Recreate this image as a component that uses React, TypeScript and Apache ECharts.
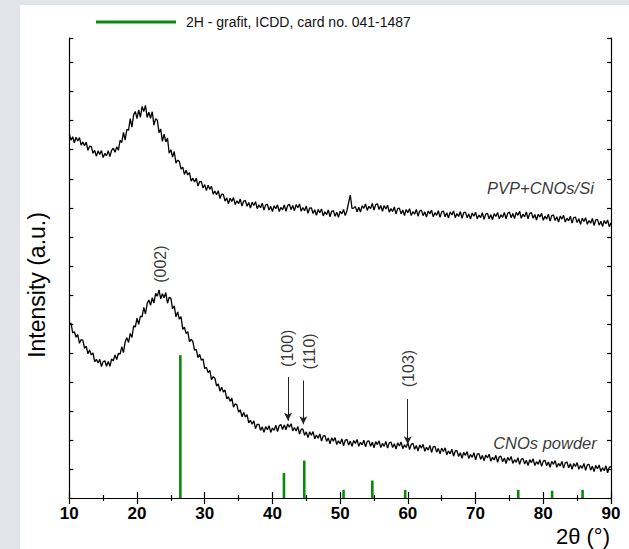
import React, { useEffect, useRef } from "react";
import * as echarts from "echarts";

// 2θ grid of the measured patterns (degrees)
const twoThetaStart = 10;
const twoThetaStep = 0.25;

// PVP+CNOs/Si pattern (a.u., offset upward), 10° … 90°
const pvpCnosSi = [
  12.54, 12.33, 12.45, 12.24, 12.43, 12.30, 12.42, 12.16, 12.27, 12.14,
  12.26, 11.98, 12.12, 12.11, 11.88, 11.98, 11.77, 11.96, 11.84, 11.97,
  11.73, 11.87, 11.79, 11.97, 11.76, 11.98, 12.05, 11.91, 12.10, 11.98,
  12.32, 12.25, 12.60, 12.33, 12.70, 12.67, 13.07, 12.78, 13.20, 13.32,
  13.07, 13.37, 13.12, 13.49, 13.32, 13.53, 13.11, 13.29, 13.08, 13.31,
  12.85, 13.07, 13.02, 12.59, 12.71, 12.29, 12.54, 12.27, 12.40, 11.88,
  12.00, 11.75, 11.94, 11.54, 11.64, 11.60, 11.33, 11.40, 11.15, 11.29,
  11.13, 11.21, 10.92, 11.02, 10.89, 11.02, 10.75, 10.90, 10.90, 10.68,
  10.80, 10.59, 10.78, 10.64, 10.74, 10.47, 10.58, 10.45, 10.59, 10.32,
  10.47, 10.46, 10.23, 10.34, 10.14, 10.33, 10.22, 10.35, 10.11, 10.24,
  10.14, 10.30, 10.06, 10.23, 10.25, 10.05, 10.18, 9.99, 10.19, 10.08,
  10.21, 9.97, 10.10, 10.00, 10.16, 9.92, 10.10, 10.12, 9.92, 10.05,
  9.87, 10.07, 9.97, 10.10, 9.87, 10.01, 9.93, 10.10, 9.88, 10.08,
  10.12, 9.94, 10.08, 9.90, 10.11, 10.00, 10.13, 9.88, 10.01, 9.90,
  10.06, 9.81, 9.99, 10.00, 9.80, 9.93, 9.74, 9.94, 9.83, 9.96,
  9.72, 9.86, 9.76, 9.93, 9.69, 9.88, 9.90, 9.71, 9.85, 9.67,
  9.88, 9.79, 9.94, 9.73, 9.90, 10.18, 10.44, 9.98, 9.99, 10.04,
  9.86, 10.02, 9.85, 10.07, 9.98, 10.13, 9.91, 10.05, 9.97, 10.15,
  9.92, 10.11, 10.14, 9.94, 10.08, 9.88, 10.08, 9.96, 10.09, 9.85,
  9.97, 9.87, 10.03, 9.79, 9.97, 9.99, 9.79, 9.92, 9.73, 9.94,
  9.83, 9.97, 9.73, 9.87, 9.78, 9.94, 9.71, 9.89, 9.92, 9.73,
  9.86, 9.68, 9.89, 9.79, 9.92, 9.69, 9.83, 9.74, 9.90, 9.67,
  9.86, 9.89, 9.69, 9.83, 9.65, 9.86, 9.75, 9.89, 9.66, 9.80,
  9.70, 9.87, 9.64, 9.83, 9.85, 9.66, 9.79, 9.61, 9.82, 9.71,
  9.85, 9.62, 9.75, 9.66, 9.83, 9.60, 9.78, 9.81, 9.62, 9.76,
  9.59, 9.80, 9.70, 9.84, 9.62, 9.76, 9.67, 9.84, 9.62, 9.81,
  9.85, 9.66, 9.80, 9.63, 9.84, 9.74, 9.88, 9.64, 9.78, 9.69,
  9.86, 9.62, 9.81, 9.83, 9.64, 9.77, 9.58, 9.78, 9.68, 9.81,
  9.57, 9.71, 9.61, 9.78, 9.54, 9.73, 9.75, 9.56, 9.69, 9.51,
  9.71, 9.61, 9.74, 9.51, 9.64, 9.55, 9.71, 9.47, 9.66, 9.68,
  9.49, 9.62, 9.43, 9.64, 9.53, 9.66, 9.43, 9.56, 9.47, 9.63,
  9.39, 9.58, 9.60, 9.40, 9.54, 9.35, 9.56, 9.45, 9.58, 9.35,
  9.48,
];

// CNOs powder pattern (a.u.), 10° … 90°
const cnosPowder = [
  6.01, 6.03, 5.69, 5.73, 5.54, 5.63, 5.33, 5.46, 5.43, 5.16,
  5.23, 4.97, 5.10, 4.93, 5.00, 4.70, 4.78, 4.65, 4.78, 4.53,
  4.70, 4.73, 4.54, 4.70, 4.54, 4.79, 4.73, 4.93, 4.77, 4.98,
  4.96, 5.21, 5.01, 5.38, 5.52, 5.36, 5.67, 5.53, 5.93, 5.89,
  6.20, 5.98, 6.27, 6.24, 6.57, 6.34, 6.70, 6.82, 6.64, 6.90,
  6.72, 7.05, 6.95, 7.17, 6.86, 7.04, 6.90, 7.08, 6.71, 6.91,
  6.89, 6.52, 6.62, 6.24, 6.41, 6.16, 6.25, 5.81, 5.89, 5.67,
  5.73, 5.39, 5.47, 5.39, 5.09, 5.12, 4.84, 4.95, 4.75, 4.79,
  4.46, 4.50, 4.32, 4.40, 4.08, 4.18, 4.13, 3.86, 3.93, 3.68,
  3.82, 3.65, 3.72, 3.42, 3.49, 3.33, 3.44, 3.13, 3.25, 3.21,
  2.96, 3.04, 2.80, 2.95, 2.79, 2.87, 2.59, 2.68, 2.54, 2.66,
  2.39, 2.54, 2.54, 2.33, 2.45, 2.26, 2.46, 2.35, 2.49, 2.26,
  2.41, 2.33, 2.51, 2.29, 2.49, 2.53, 2.36, 2.52, 2.35, 2.55,
  2.44, 2.56, 2.31, 2.43, 2.31, 2.46, 2.20, 2.37, 2.37, 2.16,
  2.28, 2.08, 2.28, 2.16, 2.29, 2.04, 2.17, 2.06, 2.21, 1.96,
  2.14, 2.15, 1.95, 2.07, 1.87, 2.07, 1.96, 2.08, 1.84, 1.97,
  1.87, 2.04, 1.80, 1.99, 2.02, 1.82, 1.96, 1.78, 1.98, 1.88,
  2.02, 1.78, 1.92, 1.83, 1.99, 1.76, 1.95, 1.97, 1.78, 1.92,
  1.73, 1.94, 1.84, 1.97, 1.74, 1.88, 1.78, 1.95, 1.72, 1.90,
  1.93, 1.74, 1.87, 1.69, 1.90, 1.79, 1.93, 1.70, 1.83, 1.74,
  1.91, 1.67, 1.85, 1.88, 1.68, 1.81, 1.62, 1.83, 1.72, 1.85,
  1.61, 1.75, 1.65, 1.81, 1.57, 1.76, 1.78, 1.58, 1.71, 1.52,
  1.72, 1.60, 1.73, 1.49, 1.62, 1.52, 1.68, 1.44, 1.62, 1.63,
  1.43, 1.56, 1.37, 1.57, 1.47, 1.60, 1.36, 1.50, 1.40, 1.56,
  1.32, 1.51, 1.53, 1.33, 1.47, 1.28, 1.48, 1.38, 1.51, 1.27,
  1.40, 1.31, 1.47, 1.23, 1.42, 1.44, 1.25, 1.38, 1.19, 1.40,
  1.29, 1.43, 1.19, 1.32, 1.23, 1.39, 1.16, 1.34, 1.36, 1.17,
  1.30, 1.12, 1.32, 1.22, 1.35, 1.12, 1.25, 1.16, 1.32, 1.09,
  1.27, 1.30, 1.11, 1.24, 1.06, 1.26, 1.16, 1.29, 1.06, 1.19,
  1.10, 1.26, 1.03, 1.21, 1.24, 1.04, 1.18, 0.99, 1.19, 1.09,
  1.22, 0.99, 1.12, 1.02, 1.19, 0.95, 1.14, 1.16, 0.96, 1.10,
  0.91, 1.12, 1.01, 1.14, 0.91, 1.04, 0.94, 1.11, 0.87, 1.06,
  1.08,
];

// Reference sticks: 2H graphite, ICDD card 041-1487
const refPositions = [26.4, 41.7, 44.7, 50.5, 54.75, 59.6, 76.3, 81.3, 85.8];
const refHeights = [4.92, 0.86, 1.29, 0.28, 0.6, 0.28, 0.28, 0.25, 0.28];
const refName = "2H - grafit, ICDD, card no. 041-1487";

// Miller-index annotations
const hklLabels = ["(002)", "(100)", "(110)", "(103)"];
const hklLabelX = [23.54, 42.2, 45.4, 60.07];
const hklLabelY = [8.06, 5.16, 5.05, 4.46];
const hklArrowX = [null, 42.3, 44.56, 59.98];
const hklArrowFrom = [null, 4.17, 4.05, 3.41];
const hklArrowTo = [null, 2.66, 2.54, 1.85];

// Sample names
const sampleNames = ["PVP+CNOs/Si", "CNOs powder"];
const sampleNameX = [87.47, 87.9];
const sampleNameY = [10.67, 1.91];

const xTicksMin = 10;
const xTicksMax = 90;
const yMin = 0;
const yMax = 15.85;

const FONT = "'Liberation Sans', Arial, Helvetica, sans-serif";

export default function App() {
  const ref = useRef<HTMLDivElement>(null);

  useEffect(() => {
    if (!ref.current) return;
    const chart = echarts.init(ref.current, undefined, { renderer: "svg" });

    const toPairs = (vals: number[]) =>
      vals.map((v, i) => [twoThetaStart + i * twoThetaStep, v]);

    const arrowData: any[] = [];
    hklArrowX.forEach((x, i) => {
      if (x == null) return;
      arrowData.push([
        { coord: [x, hklArrowFrom[i]] },
        { coord: [x, hklArrowTo[i]] },
      ]);
    });

    const axisLine = { show: true, lineStyle: { color: "#000", width: 1.2 } };
    const tickStyle = { color: "#000", width: 1.2 };

    const option: any = {
      animation: false,
      backgroundColor: "#ffffff",
      textStyle: { fontFamily: FONT },
      grid: { left: 49.3, right: 18, top: 33, bottom: 51, containLabel: false },
      legend: {
        show: true,
        left: 76,
        top: 10,
        padding: 0,
        itemWidth: 80,
        itemHeight: 3,
        selectedMode: false,
        data: [{ name: refName, icon: "rect" }],
        textStyle: { fontSize: 14, color: "#111", fontFamily: FONT, padding: [0, 0, 0, 5] },
      },
      xAxis: [
        {
          type: "value",
          min: xTicksMin,
          max: xTicksMax,
          interval: 10,
          position: "bottom",
          axisLine,
          splitLine: { show: false },
          axisTick: { show: true, inside: true, length: 6, lineStyle: tickStyle },
          minorTick: { show: true, splitNumber: 2, length: 3, lineStyle: tickStyle },
          axisLabel: { show: true, fontSize: 17, fontWeight: "bold", color: "#000", margin: 7, fontFamily: FONT },
        },
        {
          type: "value",
          min: xTicksMin,
          max: xTicksMax,
          interval: 10,
          position: "top",
          axisLine,
          splitLine: { show: false },
          axisTick: { show: true, inside: true, length: 6, lineStyle: tickStyle },
          minorTick: { show: true, splitNumber: 2, length: 3, lineStyle: tickStyle },
          axisLabel: { show: false },
        },
      ],
      yAxis: [
        {
          type: "value",
          min: yMin,
          max: yMax,
          interval: 1,
          position: "left",
          axisLine,
          splitLine: { show: false },
          axisTick: { show: true, inside: true, length: 4, lineStyle: tickStyle },
          axisLabel: { show: false },
        },
        {
          type: "value",
          min: yMin,
          max: yMax,
          interval: 1,
          position: "right",
          axisLine,
          splitLine: { show: false },
          axisTick: { show: true, inside: true, length: 4, lineStyle: tickStyle },
          axisLabel: { show: false },
        },
      ],
      series: [
        {
          name: refName,
          type: "custom",
          xAxisIndex: 0,
          yAxisIndex: 0,
          itemStyle: { color: "#0a8a0a" },
          encode: { x: 0, y: 1 },
          data: refPositions.map((p, i) => [p, refHeights[i]]),
          renderItem: (params: any, api: any) => {
            const x = api.value(0);
            const h = api.value(1);
            const p0 = api.coord([x, 0]);
            const p1 = api.coord([x, h]);
            return {
              type: "line",
              shape: { x1: p0[0], y1: p0[1], x2: p1[0], y2: p1[1] },
              style: { stroke: "#0a8a0a", lineWidth: 2.6 },
            };
          },
          z: 3,
        },
        {
          name: "PVP+CNOs/Si",
          type: "line",
          xAxisIndex: 0,
          yAxisIndex: 0,
          showSymbol: false,
          symbol: "none",
          lineStyle: { color: "#000", width: 1.3 },
          data: toPairs(pvpCnosSi),
          z: 4,
        },
        {
          name: "CNOs powder",
          type: "line",
          xAxisIndex: 0,
          yAxisIndex: 0,
          showSymbol: false,
          symbol: "none",
          lineStyle: { color: "#000", width: 1.3 },
          data: toPairs(cnosPowder),
          z: 4,
        },
        {
          name: "hkl",
          type: "scatter",
          xAxisIndex: 0,
          yAxisIndex: 0,
          symbolSize: 1,
          itemStyle: { color: "transparent" },
          silent: true,
          data: hklLabels.map((t, i) => [hklLabelX[i], hklLabelY[i], t]),
          label: {
            show: true,
            position: "inside",
            rotate: 90,
            formatter: (p: any) => p.data[2],
            fontSize: 16,
            color: "#000",
            fontFamily: FONT,
          },
          markLine: {
            silent: true,
            symbol: ["none", "arrow"],
            symbolSize: [6, 8],
            label: { show: false },
            lineStyle: { color: "#222", width: 1, type: "solid" },
            data: arrowData,
          },
          z: 5,
        },
        {
          name: "samples",
          type: "scatter",
          xAxisIndex: 0,
          yAxisIndex: 0,
          symbolSize: 1,
          itemStyle: { color: "transparent" },
          silent: true,
          data: sampleNames.map((t, i) => [sampleNameX[i], sampleNameY[i], t]),
          label: {
            show: true,
            position: "inside",
            align: "right",
            verticalAlign: "middle",
            formatter: (p: any) => p.data[2],
            fontSize: 16.5,
            fontStyle: "italic",
            color: "#000",
            fontFamily: FONT,
          },
          z: 5,
        },
      ],
      graphic: [
        {
          type: "text",
          x: 17,
          y: 280,
          rotation: Math.PI / 2,
          style: {
            text: "Intensity (a.u.)",
            fontSize: 23,
            fontFamily: FONT,
            fill: "#000",
            align: "center",
            verticalAlign: "middle",
          },
        },
        {
          type: "text",
          x: 590,
          y: 531,
          style: {
            text: "2θ (°)",
            fontSize: 22,
            fontFamily: FONT,
            fill: "#000",
            align: "right",
            verticalAlign: "middle",
          },
        },
      ],
    };

    chart.setOption(option);
    return () => chart.dispose();
  }, []);

  return (
    <div style={{ position: "absolute", left: 0, top: 0, width: 629, height: 549, background: "#e1e4e8" }}>
      <div ref={ref} style={{ position: "absolute", left: 20, top: 5, width: 609, height: 544 }} />
    </div>
  );
}
